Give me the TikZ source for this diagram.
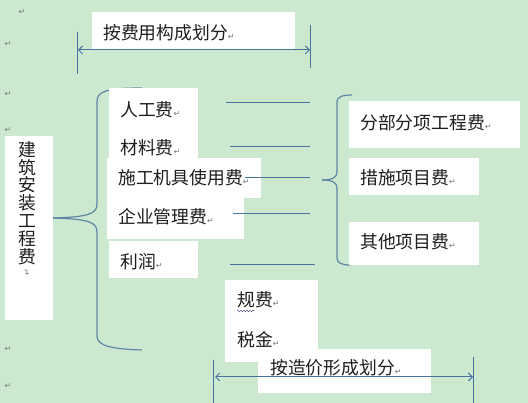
\documentclass[tikz,border=0pt]{standalone}
\usepackage{fontspec}
\newfontfamily\cjk{Noto Sans CJK SC}
\newfontfamily\symf{DejaVu Sans}
\usetikzlibrary{arrows.meta,decorations.pathmorphing}
\definecolor{bggreen}{RGB}{204,232,207}
\definecolor{lineblue}{RGB}{72,116,162}
\definecolor{bracec}{RGB}{95,135,165}
\definecolor{txt}{RGB}{30,30,30}
\definecolor{markc}{RGB}{120,120,120}
\newcommand{\retmark}{{\symf\fontsize{8}{9}\selectfont\color{markc}↵}}
\tikzset{
  wbox/.style={fill=white,draw=none},
  lbl/.style={anchor=west,inner sep=0pt,text=txt,font=\cjk\fontsize{17.8}{20}\selectfont},
  mk/.style={inner sep=0pt,font=\symf\fontsize{8}{9}\selectfont,text=markc},
  hline/.style={draw=lineblue,line width=1pt},
  brace/.style={draw=bracec,line width=1.2pt},
  dim/.style={draw=lineblue,line width=1pt,{Straight Barb[length=4pt,width=8pt]}-{Straight Barb[length=4pt,width=8pt]}},
  tick/.style={draw=lineblue,line width=0.9pt}
}
\begin{document}
\begin{tikzpicture}[x=1pt,y=-1pt]
\useasboundingbox (0,0) rectangle (528,403);
\fill[bggreen] (0,0) rectangle (528,403);

% margin paragraph marks
\node[mk] (m1) at (22,12) {↵};
\node[mk] (m2) at (8,44) {↵};
\node[mk] (m3) at (8,94) {↵};
\node[mk] (m4) at (8,130) {↵};
\node[mk] (m5) at (8,349) {↵};
\node[mk] (m6) at (8,386) {↵};

% top label and dimension
\fill[wbox] (92,12) rectangle (295,49);
\node[lbl] (top) at (103,33) {按费用构成划分\retmark};
\coordinate (t1a) at (77,32); \coordinate (t1b) at (77,74);
\coordinate (t2a) at (310,25); \coordinate (t2b) at (310,68);
\draw[tick] (t1a) -- (t1b);
\draw[tick] (t2a) -- (t2b);
\coordinate (da) at (78,50); \coordinate (db) at (310,50);
\draw[dim] (da) -- (db);

% left vertical box
\fill[wbox] (5,136) rectangle (53,320);
\node[inner sep=0pt,text=txt,font=\cjk\fontsize{17.8}{17.8}\selectfont,align=center] (main) at (27,203)
  {建\\筑\\安\\装\\工\\程\\费};
\node[mk,rotate=90] (mmk) at (27,272) {↵};

% left brace
\coordinate (bl) at (53,218);
\draw[brace] (142,88) .. controls (104,88) and (97,92) .. (97,102) -- (97,204)
  .. controls (97,214) and (88,217) .. (bl);
\draw[brace] (bl) .. controls (88,219) and (97,222) .. (97,232) -- (97,336)
  .. controls (97,346) and (112,349) .. (142,350);

% middle boxes
\fill[wbox] (109,88) rectangle (198,160);
\fill[wbox] (107,158) rectangle (261,198);
\fill[wbox] (107,197) rectangle (244,239);
\fill[wbox] (109,241) rectangle (198,278);
\node[lbl] (rg) at (120,110) {人工费\retmark};
\node[lbl] (cl) at (120,148) {材料费\retmark};
\node[lbl] (jj) at (118,178) {施工机具使用费\retmark};
\node[lbl] (gl) at (118,217) {企业管理费\retmark};
\node[lbl] (lr) at (120,262) {利润\retmark};

% horizontal connector lines
\coordinate (h1a) at (226,103); \coordinate (h1b) at (310,103);
\coordinate (h2a) at (230,147); \coordinate (h2b) at (310,147);
\coordinate (h3a) at (245,178); \coordinate (h3b) at (310,178);
\coordinate (h4a) at (233,214); \coordinate (h4b) at (310,214);
\coordinate (h5a) at (230,265); \coordinate (h5b) at (315,265);
\draw[hline] (h1a) -- (h1b);
\draw[hline] (h2a) -- (h2b);
\draw[hline] (h3a) -- (h3b);
\draw[hline] (h4a) -- (h4b);
\draw[hline] (h5a) -- (h5b);

% right brace
\coordinate (br) at (322,180);
\draw[brace] (352,95) .. controls (342,95) and (337,97) .. (337,102) -- (337,172)
  .. controls (337,177) and (333,180) .. (br);
\draw[brace] (br) .. controls (333,180) and (337,183) .. (337,188) -- (337,258)
  .. controls (337,263) and (342,265) .. (350,265);

% right boxes
\fill[wbox] (349,101) rectangle (520,148);
\fill[wbox] (349,158) rectangle (479,195);
\fill[wbox] (349,222) rectangle (479,265);
\node[lbl] (fb) at (360,123) {分部分项工程费\retmark};
\node[lbl] (cs) at (360,178) {措施项目费\retmark};
\node[lbl] (qt) at (360,242) {其他项目费\retmark};

% fees box
\fill[wbox] (225,280) rectangle (318,362);
\node[lbl] (gf) at (237,300) {规费\retmark};
\node[lbl] (sj) at (237,340) {税金\retmark};
\draw[draw=markc!80!blue,line width=0.5pt,decorate,decoration={snake,amplitude=0.8pt,segment length=3pt}]
  (237,311) -- (255,311);

% bottom label and dimension
\fill[wbox] (258,349) rectangle (431,393);
\node[lbl] (bot) at (270,368) {按造价形成划分\retmark};
\coordinate (b1a) at (213,360); \coordinate (b1b) at (213,403);
\coordinate (b2a) at (473,357); \coordinate (b2b) at (473,403);
\draw[tick] (b1a) -- (b1b);
\draw[tick] (b2a) -- (b2b);
\coordinate (ea) at (215,377); \coordinate (eb) at (473,377);
\draw[dim] (ea) -- (eb);
\end{tikzpicture}
\end{document}
